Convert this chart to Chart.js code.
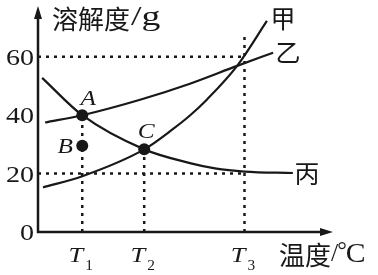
<!DOCTYPE html>
<html>
<head>
<meta charset="utf-8">
<script src="https://cdn.jsdelivr.net/npm/chart.js@4"></script>
<style>
  body { margin: 0; background: #fff; }
  #wrap { width: 378px; height: 275px; position: relative; }
</style>
</head>
<body>
<div id="wrap"><canvas id="chart"></canvas></div>
<script>
// temperature ticks T1, T2, T3 (x units) and solubility ticks
const tempTicks = [15, 36, 70];
const tempSubs = ['1', '2', '3'];
const solTicks = [0, 20, 40, 60];

// solubility curves
const jiaX = [1.7, 15, 36, 45.8, 51.5, 57.3, 67.5, 77.6];
const jiaY = [15.3, 19.1, 28.3, 35.3, 39.9, 45.4, 56.9, 72.3];
const yiX = [2.4, 15, 34.6, 51.5, 67.5, 79.7];
const yiY = [37.5, 40, 45.3, 50.8, 56.9, 61.4];
const bingX = [1.4, 15, 36, 51.5, 60, 70, 86.4];
const bingY = [52.8, 40, 28.3, 23.6, 21.8, 20.7, 20.2];

// marked points A, B, C
const pointNames = ['A', 'B', 'C'];
const pointX = [15, 15, 36];
const pointY = [40, 29.5, 28.3];

// dotted guide lines
const hGuides = [60, 20];            // horizontal, from axis to T3
const vGuideTops = [40, 28.3, 68.5]; // vertical, from axis up

const curveNames = ['甲', '乙', '丙'];
const ink = '#181818';
const serif = '"Liberation Serif", "DejaVu Serif", serif';
const cjk = '"Noto Sans CJK SC", sans-serif';

const zip = (xs, ys) => xs.map((x, i) => ({ x: x, y: ys[i] }));

const curve = (label, data) => ({
    label: label,
    data: data,
    borderColor: ink,
    borderWidth: 2.2,
    pointRadius: 0,
    cubicInterpolationMode: 'monotone',
});

const guide = (data) => ({
    data: data,
    borderColor: ink,
    borderWidth: 2.5,
    borderDash: [3, 5],
    pointRadius: 0,
});

const datasets = [
    curve('甲', zip(jiaX, jiaY)),
    curve('乙', zip(yiX, yiY)),
    curve('丙', zip(bingX, bingY)),
    ...hGuides.map((v) => guide([{ x: 0, y: v }, { x: tempTicks[2], y: v }])),
    ...vGuideTops.map((v, i) => guide([{ x: tempTicks[i], y: 0 }, { x: tempTicks[i], y: v }])),
    {
        label: 'points',
        data: zip(pointX, pointY),
        showLine: false,
        pointRadius: 6,
        pointBackgroundColor: ink,
        pointBorderWidth: 0,
    },
];

function stretchText(ctx, text, x, y, font, align, sx) {
    ctx.save();
    ctx.translate(x, y);
    ctx.scale(sx, 1);
    ctx.font = font;
    ctx.textAlign = align;
    ctx.textBaseline = 'middle';
    ctx.fillText(text, 0, 0);
    const w = ctx.measureText(text).width * sx;
    ctx.restore();
    return w;
}

const decorPlugin = {
    id: 'decor',
    afterDraw(chart) {
        const { ctx, chartArea: area, scales } = chart;
        const xs = scales.x;
        const ys = scales.y;
        ctx.save();
        ctx.fillStyle = ink;
        ctx.strokeStyle = ink;

        // axes with arrows
        ctx.lineWidth = 2.5;
        ctx.beginPath();
        ctx.moveTo(area.left, area.top + 6);
        ctx.lineTo(area.left, area.bottom);
        ctx.lineTo(area.right - 6, area.bottom);
        ctx.stroke();
        ctx.beginPath();
        ctx.moveTo(area.left, area.top);
        ctx.lineTo(area.left - 4, area.top + 13);
        ctx.lineTo(area.left + 4, area.top + 13);
        ctx.closePath();
        ctx.fill();
        ctx.beginPath();
        ctx.moveTo(area.right, area.bottom);
        ctx.lineTo(area.right - 13, area.bottom - 4);
        ctx.lineTo(area.right - 13, area.bottom + 4);
        ctx.closePath();
        ctx.fill();

        // y tick labels
        solTicks.forEach((v) => {
            stretchText(ctx, String(v), area.left - 4, ys.getPixelForValue(v) + 2, `23px ${serif}`, 'right', 1.22);
        });

        // x tick labels T1..T3
        tempTicks.forEach((v, i) => {
            const px = xs.getPixelForValue(v);
            stretchText(ctx, 'T', px + 1, area.bottom + 24, `italic 22px ${serif}`, 'right', 1.2);
            stretchText(ctx, tempSubs[i], px + 3, area.bottom + 34, `14px ${serif}`, 'left', 1.1);
        });

        // axis titles
        ctx.textBaseline = 'middle';
        ctx.textAlign = 'left';
        ctx.font = `26px ${cjk}`;
        ctx.fillText('溶解度', 52, 19);
        let w = ctx.measureText('溶解度').width;
        stretchText(ctx, '/g', 52 + w + 1, 18, `28px ${serif}`, 'left', 1.35);

        ctx.font = `26px ${cjk}`;
        ctx.fillText('温度', 279, 255);
        w = ctx.measureText('温度').width;
        let x = 279 + w;
        x += stretchText(ctx, '/', x, 254, `26px ${serif}`, 'left', 1);
        x += stretchText(ctx, '°', x - 1, 252, `24px ${serif}`, 'left', 1) - 2;
        stretchText(ctx, 'C', x, 255, `27px ${serif}`, 'left', 1.1);

        // curve names at the curve ends
        const ends = [[jiaX, jiaY, 16, -2], [yiX, yiY, 15, 0], [bingX, bingY, 14, 0]];
        ends.forEach(([cx, cy, dx, dy], i) => {
            const n = cx.length - 1;
            ctx.font = `25px ${cjk}`;
            ctx.textAlign = 'center';
            ctx.textBaseline = 'middle';
            ctx.fillText(curveNames[i], xs.getPixelForValue(cx[n]) + dx, ys.getPixelForValue(cy[n]) + dy);
        });

        // point names
        const offs = [[6, -16], [-17, 1], [2, -17]];
        pointNames.forEach((name, i) => {
            stretchText(ctx, name, xs.getPixelForValue(pointX[i]) + offs[i][0], ys.getPixelForValue(pointY[i]) + offs[i][1], `italic 22px ${serif}`, 'center', 1.15);
        });

        ctx.restore();
    },
};

new Chart(document.getElementById('chart'), {
    type: 'line',
    data: { datasets: datasets },
    options: {
        responsive: true,
        maintainAspectRatio: false,
        animation: false,
        layout: { padding: { left: 38, right: 45, top: 5, bottom: 43 } },
        scales: {
            x: { type: 'linear', min: 0, max: 100, display: false },
            y: { type: 'linear', min: 0, max: 77.4, display: false },
        },
        plugins: {
            legend: { display: false },
            tooltip: { enabled: false },
        },
        elements: { line: { fill: false } },
    },
    plugins: [decorPlugin],
});
</script>
</body>
</html>
